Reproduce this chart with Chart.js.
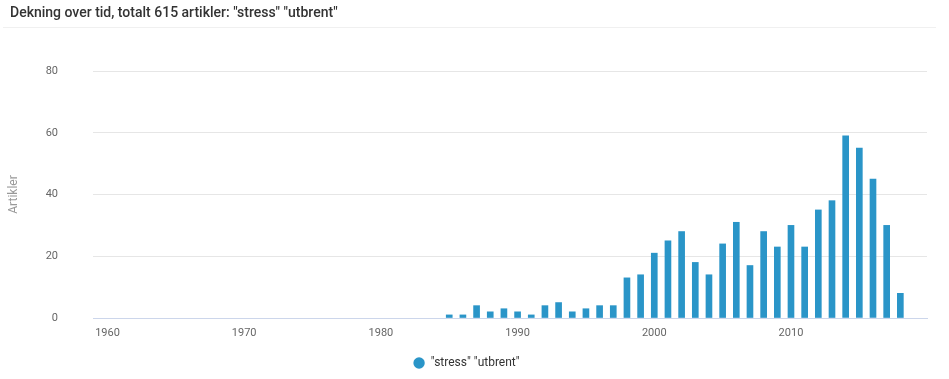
<!DOCTYPE html>
<html>
<head>
<meta charset="utf-8">
<script src="https://cdn.jsdelivr.net/npm/chart.js@4.4.1/dist/chart.umd.min.js"></script>
<style>
  html, body { margin: 0; padding: 0; background: #fff; }
  #wrap { position: relative; width: 949px; height: 379px; overflow: hidden; }
  #title { position: absolute; left: 10px; top: 4px; font-family: Roboto, sans-serif; font-size: 14px; font-weight: 500; color: #333; white-space: nowrap; }
  #sep { position: absolute; left: 3px; top: 27px; width: 933px; height: 1px; background: #f0f0f0; }
  #c { position: absolute; left: 0; top: 0; }
</style>
</head>
<body>
<div id="wrap">
  <canvas id="c" width="949" height="379"></canvas>
  <div id="title">Dekning over tid, totalt 615 artikler: "stress" "utbrent"</div>
  <div id="sep"></div>
</div>
<script>
const years = [1985,1986,1987,1988,1989,1990,1991,1992,1993,1994,1995,1996,1997,1998,1999,2000,2001,2002,2003,2004,2005,2006,2007,2008,2009,2010,2011,2012,2013,2014,2015,2016,2017,2018];
const counts = [1,1,4,2,3,2,1,4,5,2,3,4,4,13,14,21,25,28,18,14,24,31,17,28,23,30,23,35,38,59,55,45,30,8];
const seriesName = '"stress" "utbrent"';
const xTicks = [1960,1970,1980,1990,2000,2010];
const yTicks = [0,20,40,60,80];
const yTitle = 'Artikler';

const barColor = '#2a95c8';

new Chart(document.getElementById('c'), {
  type: 'bar',
  data: {
    datasets: [{
      label: seriesName,
      data: years.map((y, i) => ({ x: y, y: counts[i] })),
      backgroundColor: barColor,
      borderWidth: 0,
      barThickness: 6,
      pointStyle: 'circle'
    }]
  },
  options: {
    responsive: false,
    animation: false,
    layout: { padding: { top: 71, right: 22, left: 6, bottom: 0 } },
    plugins: {
      title: { display: false },
      tooltip: { enabled: false },
      legend: {
        display: true,
        position: 'bottom',
        labels: {
          usePointStyle: true,
          pointStyleWidth: 11.4,
          boxHeight: 8,
          boxWidth: 8,
          padding: 10,
          color: '#333',
          font: { family: 'Roboto', size: 12, weight: 'normal' }
        }
      }
    },
    scales: {
      x: {
        type: 'linear',
        offset: false,
        min: 1958.94,
        max: 2019.95,
        afterBuildTicks: axis => { axis.ticks = xTicks.map(v => ({ value: v })); },
        afterFit: scale => { scale.height = 29; },
        grid: { display: false, drawTicks: false },
        border: { display: true, color: '#ccd6eb', width: 1 },
        ticks: {
          autoSkip: false,
          maxRotation: 0,
          padding: 9,
          color: '#666',
          font: { family: 'Roboto', size: 11 },
          callback: v => String(v)
        }
      },
      y: {
        min: 0,
        max: 80,
        afterBuildTicks: axis => { axis.ticks = yTicks.map(v => ({ value: v })); },
        afterFit: scale => { scale.width = 87; },
        grid: {
          drawTicks: false,
          color: ctx => (ctx.tick && ctx.tick.value === 0) ? 'rgba(0,0,0,0)' : '#e6e6e6',
          lineWidth: 1
        },
        border: { display: false },
        title: {
          display: true,
          text: yTitle,
          color: '#999',
          font: { family: 'Roboto', size: 12 },
          padding: { top: 1, bottom: 0 }
        },
        ticks: {
          padding: 35,
          color: '#666',
          font: { family: 'Roboto', size: 11 }
        }
      }
    }
  }
});
</script>
</body>
</html>
